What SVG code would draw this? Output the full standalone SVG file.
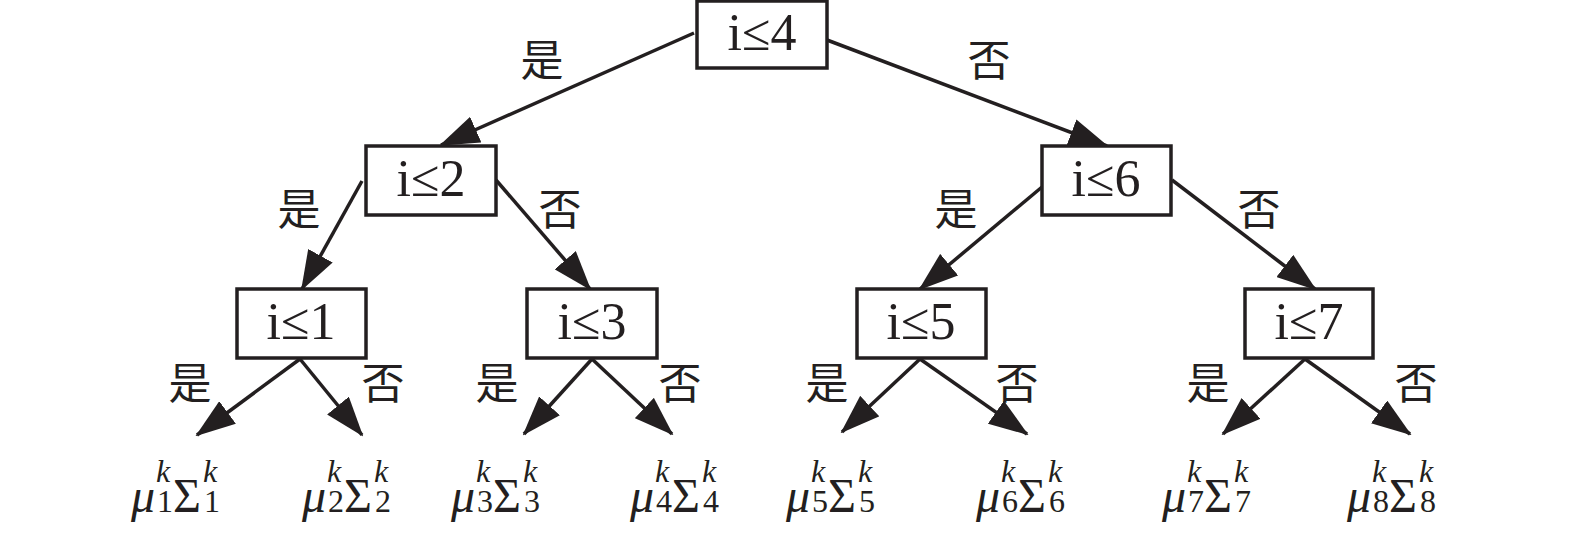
<svg xmlns="http://www.w3.org/2000/svg" width="1575" height="533" viewBox="0 0 1575 533">
<style>
.box{fill:#fff;stroke:#231f20;stroke-width:3.5}
.bl{font-family:"Liberation Serif",serif;font-size:52px;fill:#231f20;text-anchor:middle}
.yn{font-family:"Noto Sans CJK SC",sans-serif;font-size:43px;fill:#231f20;text-anchor:middle;dominant-baseline:central}
.c line{stroke:#231f20;stroke-width:3.5;marker-end:url(#ah)}
.m{font-family:"Liberation Serif",serif;fill:#231f20}
.big{font-size:48px}
.it{font-style:italic}
.sm{font-size:32px}
</style>
<defs>
<marker id="ah" markerUnits="userSpaceOnUse" markerWidth="40" markerHeight="28" viewBox="0 0 40 28" refX="38" refY="14" orient="auto">
<path d="M0,0 L40,14 L0,28 z" fill="#231f20"/>
</marker>
<g id="leaf" class="m">
<text class="big it" x="-1" y="0">μ</text>
<text class="sm it" x="24" y="-30">k</text>
<text class="big" x="41" y="0">Σ</text>
<text class="sm it" x="71" y="-30">k</text>
</g>
</defs>
<g class="c" id="connectors">
<line x1="694" y1="33" x2="441" y2="145"/>
<line x1="827" y1="40" x2="1107" y2="146"/>
<line x1="362" y1="181" x2="302" y2="289"/>
<line x1="496" y1="180" x2="590" y2="289"/>
<line x1="1042" y1="187" x2="920" y2="289"/>
<line x1="1172" y1="180" x2="1315" y2="289"/>
<line x1="300" y1="359" x2="197" y2="435"/>
<line x1="300" y1="359" x2="362" y2="435"/>
<line x1="592" y1="359" x2="524" y2="434"/>
<line x1="592" y1="359" x2="672" y2="434"/>
<line x1="920" y1="359" x2="842" y2="432"/>
<line x1="920" y1="359" x2="1027" y2="434"/>
<line x1="1305" y1="359" x2="1223" y2="434"/>
<line x1="1305" y1="359" x2="1410" y2="434"/>
</g>
<g id="n4"><rect class="box" x="697" y="1" width="130" height="67"/><text class="bl" x="762" y="50">i≤4</text></g>
<g id="n2"><rect class="box" x="366" y="146" width="130" height="69"/><text class="bl" x="431" y="196">i≤2</text></g>
<g id="n6"><rect class="box" x="1042" y="146" width="129" height="69"/><text class="bl" x="1106" y="196">i≤6</text></g>
<g id="n1"><rect class="box" x="237" y="289" width="129" height="69"/><text class="bl" x="301" y="339">i≤1</text></g>
<g id="n3"><rect class="box" x="527" y="289" width="130" height="69"/><text class="bl" x="592" y="339">i≤3</text></g>
<g id="n5"><rect class="box" x="857" y="289" width="129" height="69"/><text class="bl" x="921" y="339">i≤5</text></g>
<g id="n7"><rect class="box" x="1245" y="289" width="128" height="69"/><text class="bl" x="1309" y="339">i≤7</text></g>
<g id="labels">
<text class="yn" x="542" y="57">是</text>
<text class="yn" x="989" y="57">否</text>
<text class="yn" x="299" y="206">是</text>
<text class="yn" x="560" y="206">否</text>
<text class="yn" x="956" y="206">是</text>
<text class="yn" x="1259" y="206">否</text>
<text class="yn" x="190" y="380">是</text>
<text class="yn" x="383" y="380">否</text>
<text class="yn" x="497" y="380">是</text>
<text class="yn" x="680" y="380">否</text>
<text class="yn" x="827" y="380">是</text>
<text class="yn" x="1017" y="380">否</text>
<text class="yn" x="1208" y="380">是</text>
<text class="yn" x="1416" y="380">否</text>
</g>
<g id="leaf1" class="m" transform="translate(132,512)"><use href="#leaf"/><text class="sm" x="25" y="0">1</text><text class="sm" x="72" y="0">1</text></g>
<g id="leaf2" class="m" transform="translate(303,512)"><use href="#leaf"/><text class="sm" x="25" y="0">2</text><text class="sm" x="72" y="0">2</text></g>
<g id="leaf3" class="m" transform="translate(452,512)"><use href="#leaf"/><text class="sm" x="25" y="0">3</text><text class="sm" x="72" y="0">3</text></g>
<g id="leaf4" class="m" transform="translate(631,512)"><use href="#leaf"/><text class="sm" x="25" y="0">4</text><text class="sm" x="72" y="0">4</text></g>
<g id="leaf5" class="m" transform="translate(787,512)"><use href="#leaf"/><text class="sm" x="25" y="0">5</text><text class="sm" x="72" y="0">5</text></g>
<g id="leaf6" class="m" transform="translate(977,512)"><use href="#leaf"/><text class="sm" x="25" y="0">6</text><text class="sm" x="72" y="0">6</text></g>
<g id="leaf7" class="m" transform="translate(1163,512)"><use href="#leaf"/><text class="sm" x="25" y="0">7</text><text class="sm" x="72" y="0">7</text></g>
<g id="leaf8" class="m" transform="translate(1348,512)"><use href="#leaf"/><text class="sm" x="25" y="0">8</text><text class="sm" x="72" y="0">8</text></g>
</svg>
